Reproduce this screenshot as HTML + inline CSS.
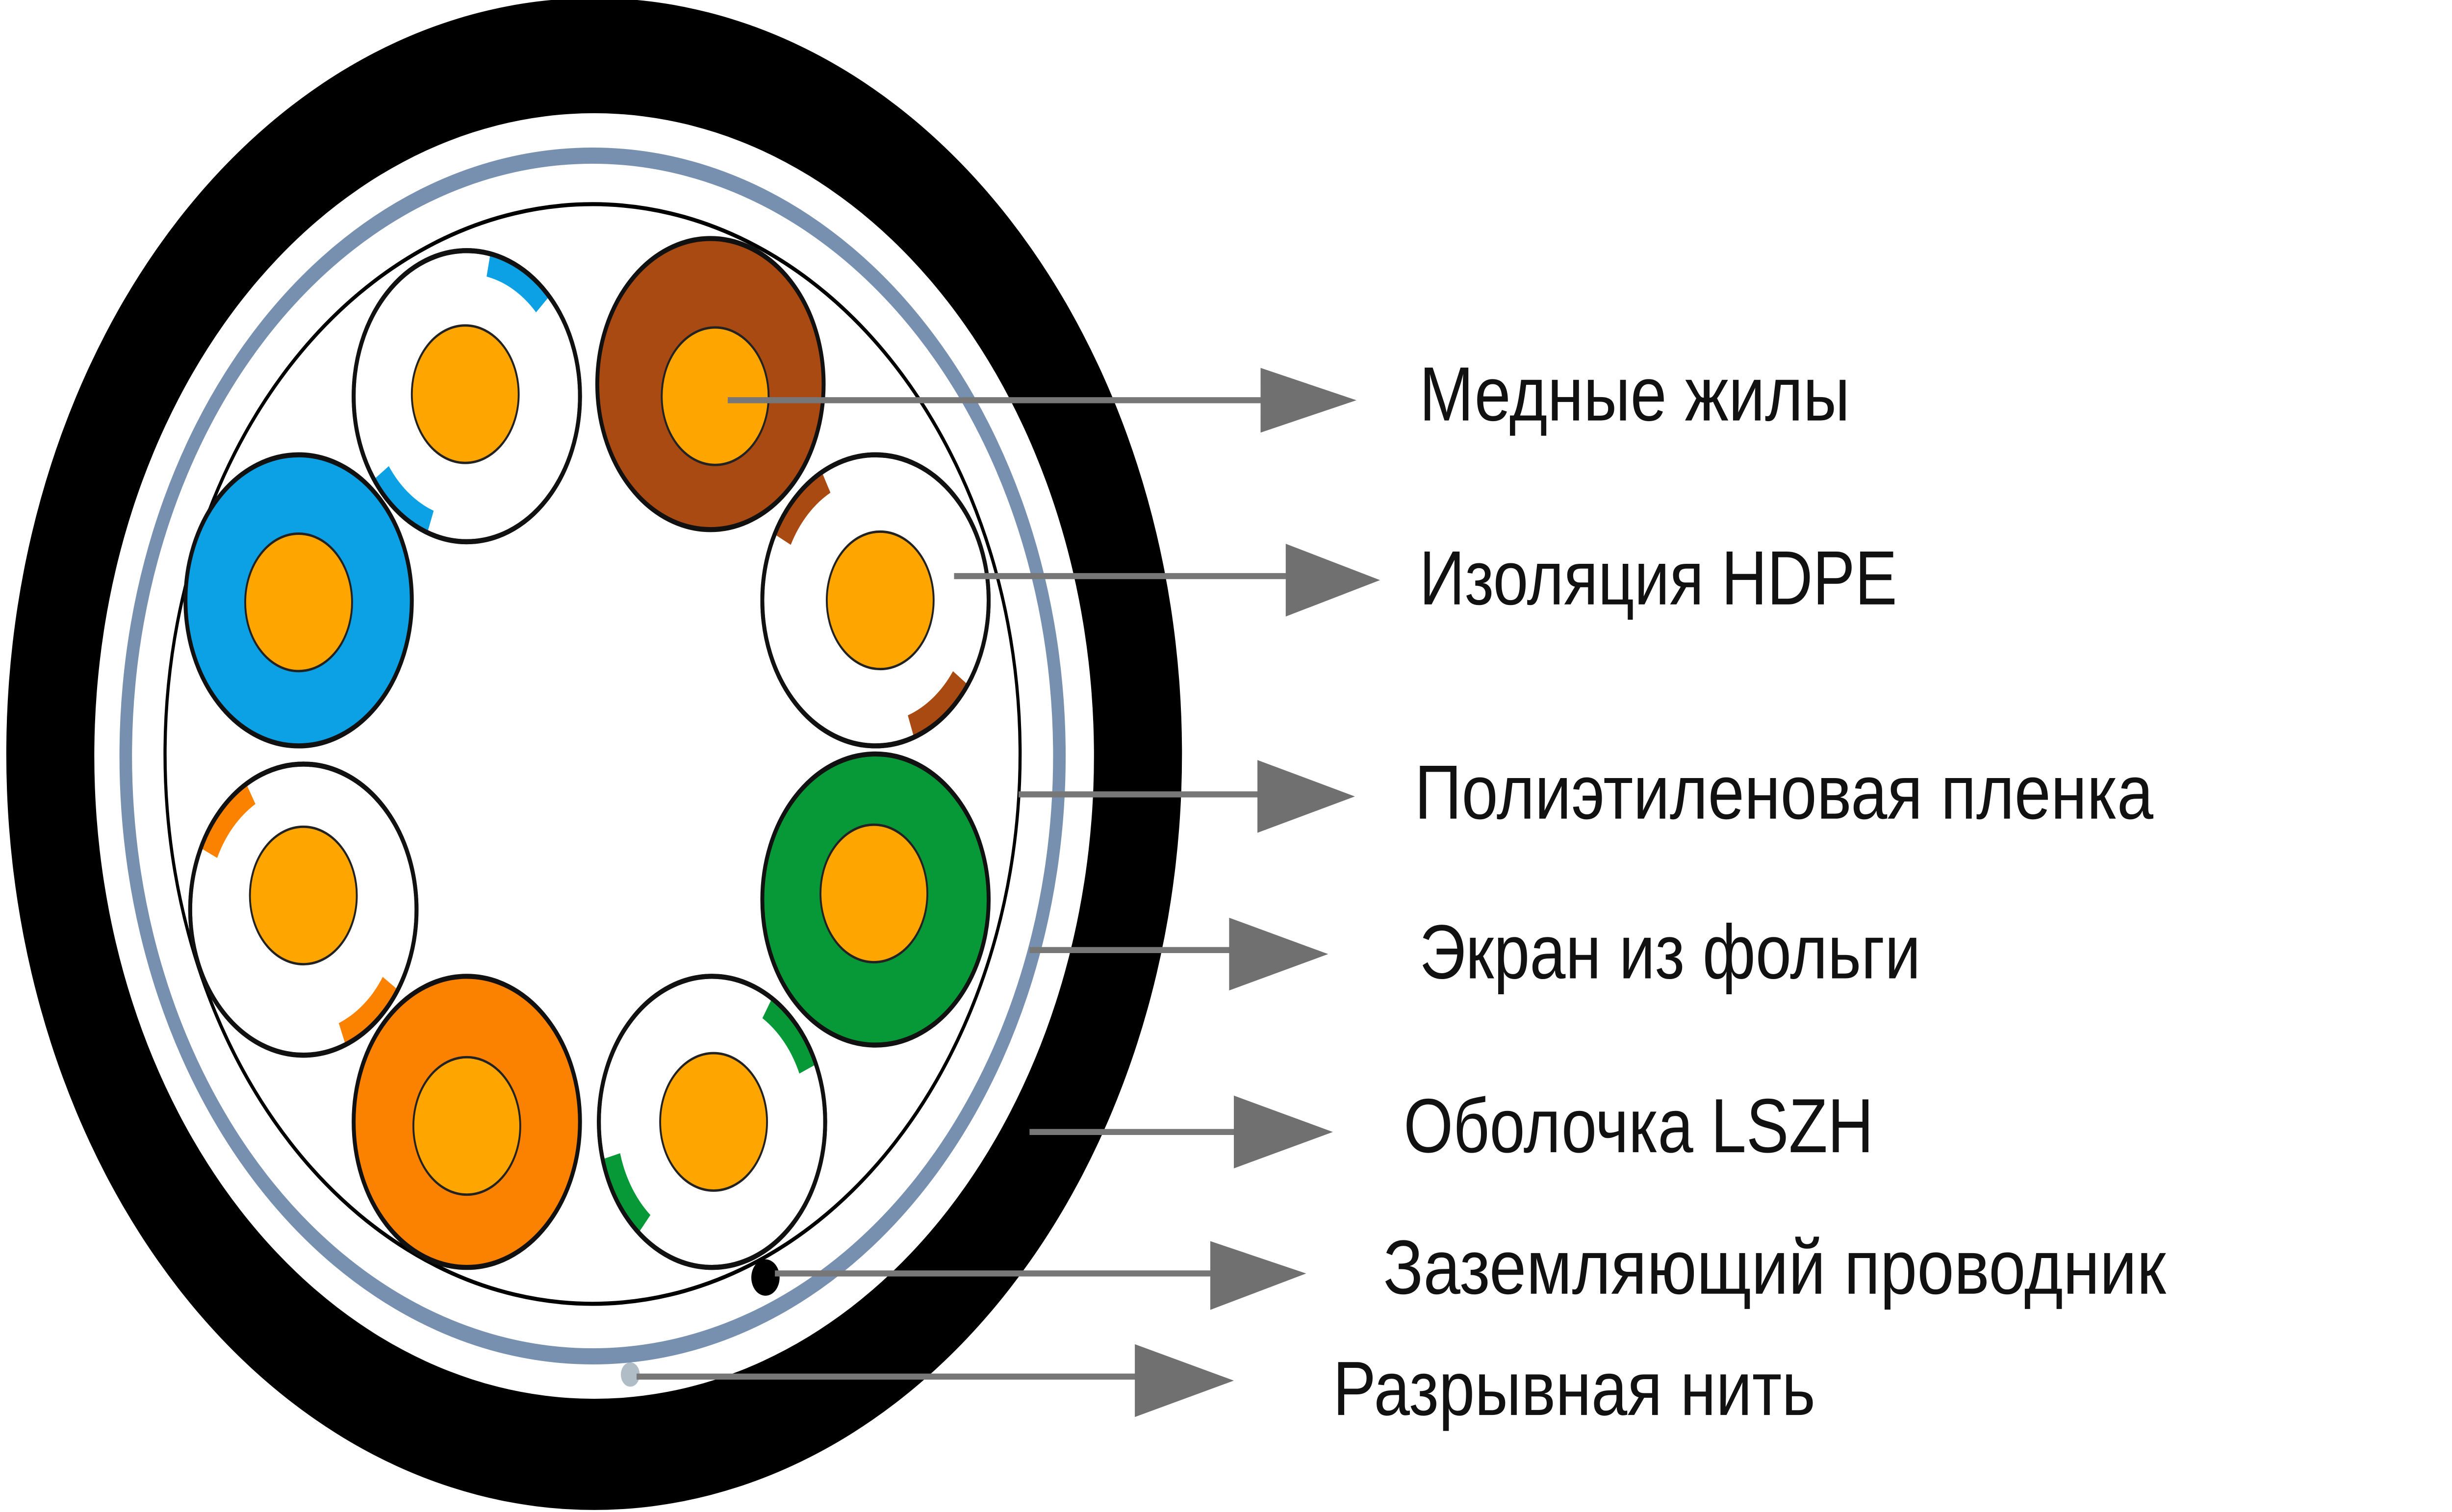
<!DOCTYPE html>
<html><head><meta charset="utf-8"><style>
html,body{margin:0;padding:0;background:#fff;width:100%;height:100%;overflow:hidden;}
svg{display:block;width:100vw;height:100vh;}
text{font-family:"Liberation Sans",sans-serif;font-size:38px;fill:#111;}
</style></head><body>
<svg viewBox="0 0 1560 748" preserveAspectRatio="none" xmlns="http://www.w3.org/2000/svg">
<rect width="1560" height="748" fill="#fff"/>
<circle cx="378" cy="373" r="374" fill="#000"/>
<circle cx="378" cy="374" r="318" fill="#fff"/>
<circle cx="377" cy="374" r="297" fill="none" stroke="#7790b0" stroke-width="8"/>
<circle cx="377" cy="373" r="272" fill="none" stroke="#000" stroke-width="2"/>
<g stroke="#111" stroke-width="2.5">
<circle cx="297" cy="196" r="72" fill="#fff"/>
<circle cx="452" cy="190" r="72" fill="#a84a12"/>
<circle cx="557" cy="297" r="72" fill="#fff"/>
<circle cx="557" cy="445" r="72" fill="#079938"/>
<circle cx="453" cy="555" r="72" fill="#fff"/>
<circle cx="297" cy="555" r="72" fill="#fb8200"/>
<circle cx="193" cy="450" r="72" fill="#fff"/>
<circle cx="190" cy="297" r="72" fill="#0ca0e4"/>
</g>
<g fill="none" stroke-width="11" stroke-dasharray="40 177">
<circle cx="297" cy="196" r="66" stroke="#0ca0e4" transform="rotate(-78 297 196)"/>
<circle cx="557" cy="297" r="66" stroke="#a84a12" transform="rotate(-153 557 297)"/>
<circle cx="453" cy="555" r="66" stroke="#079938" transform="rotate(-58 453 555)"/>
<circle cx="193" cy="450" r="66" stroke="#fb8200" transform="rotate(-155 193 450)"/>
</g>
<g fill="none" stroke="#111" stroke-width="2.5">
<circle cx="297" cy="196" r="72"/><circle cx="557" cy="297" r="72"/>
<circle cx="453" cy="555" r="72"/><circle cx="193" cy="450" r="72"/>
</g>
<g fill="#ffa500" stroke="#222" stroke-width="1.2">
<circle cx="296" cy="195" r="34"/><circle cx="455" cy="196" r="34"/>
<circle cx="560" cy="297" r="34"/><circle cx="556" cy="442" r="34"/>
<circle cx="454" cy="555" r="34"/><circle cx="297" cy="557" r="34"/>
<circle cx="193" cy="443" r="34"/><circle cx="190" cy="298" r="34"/>
</g>
<circle cx="487" cy="632" r="9" fill="#000"/>
<circle cx="401" cy="680" r="6" fill="#b0bcc6"/>
<g stroke="#777" stroke-width="3">
<line x1="463" y1="198" x2="805" y2="198"/>
<line x1="607" y1="285" x2="820" y2="285"/>
<line x1="648" y1="393" x2="802" y2="393"/>
<line x1="655" y1="470" x2="785" y2="470"/>
<line x1="655" y1="560" x2="788" y2="560"/>
<line x1="493" y1="630" x2="772" y2="630"/>
<line x1="405" y1="681" x2="725" y2="681"/>
</g>
<g fill="#707070">
<polygon points="802,182 863,198 802,214"/>
<polygon points="818,269 878,287 818,305"/>
<polygon points="800,376 862,394 800,412"/>
<polygon points="782,454 845,472 782,490"/>
<polygon points="785,542 848,560 785,578"/>
<polygon points="770,614 831,630 770,648"/>
<polygon points="722,665 785,683 722,701"/>
</g>
<text x="903" y="208" textLength="274" lengthAdjust="spacingAndGlyphs">Медные жилы</text>
<text x="903" y="299" textLength="304" lengthAdjust="spacingAndGlyphs">Изоляция HDPE</text>
<text x="900" y="405" textLength="470" lengthAdjust="spacingAndGlyphs">Полиэтиленовая пленка</text>
<text x="903" y="484" textLength="319" lengthAdjust="spacingAndGlyphs">Экран из фольги</text>
<text x="893" y="570" textLength="299" lengthAdjust="spacingAndGlyphs">Оболочка LSZH</text>
<text x="880" y="640" textLength="498" lengthAdjust="spacingAndGlyphs">Заземляющий проводник</text>
<text x="848" y="700" textLength="307" lengthAdjust="spacingAndGlyphs">Разрывная нить</text>
</svg>
</body></html>
